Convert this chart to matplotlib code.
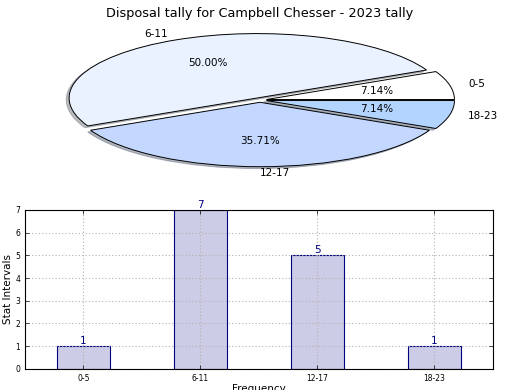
import matplotlib.pyplot as plt
import numpy as np

# intervalos y conteos
intervalos = ['0-5', '6-11', '12-17', '18-23']
conteos = [1, 7, 5, 1]
colores = ['#ffffff', '#eaf2ff', '#c4d8ff', '#b3d4ff']
explode = [0.035, 0.035, 0.035, 0.035]

fig = plt.figure(figsize=(5.2, 3.9), dpi=100)

# Pie de arriba (aplastado)
ax1 = fig.add_axes([0.048, 0.537, 0.904, 0.413])
wedges, textos, pcts = ax1.pie(conteos, labels=intervalos, colors=colores,
                               explode=explode, autopct='%1.2f%%',
                               shadow={'ox': -0.011, 'oy': -0.02, 'shade': 0.5},
                               startangle=0, labeldistance=1.1, pctdistance=0.6,
                               wedgeprops={'edgecolor': 'black', 'linewidth': 0.7},
                               textprops={'fontsize': 7.5})
ax1.set_aspect('auto')
ax1.set_xlim(-1.25, 1.25)
ax1.set_ylim(-1.25, 1.25)
ax1.set_title('Disposal tally for Campbell Chesser - 2023 tally', fontsize=9.3, pad=0)

# Barras de abajo
ax2 = fig.add_axes([0.048, 0.054, 0.9, 0.408])
x = np.arange(len(intervalos))
barras = ax2.bar(x, conteos, width=0.45, color='#ccccE6', edgecolor='navy', linewidth=0.8)
for xi, c in zip(x, conteos):
    ax2.text(xi, c, str(c), ha='center', va='bottom', color='navy', fontsize=7.5)

ax2.set_xlim(-0.5, 3.5)
ax2.set_ylim(0, 7)
ax2.set_xticks(x)
ax2.set_xticklabels(intervalos)
ax2.set_yticks(range(8))
ax2.tick_params(labelsize=5.5, direction='in', top=True, right=True, length=3, width=0.5)
ax2.grid(True, linestyle=(0, (1, 2)), color='0.7', linewidth=0.8)
ax2.set_axisbelow(False)
for s in ax2.spines.values():
    s.set_zorder(4)
ax2.set_ylabel('Stat Intervals', fontsize=7.5)
ax2.yaxis.set_label_coords(-0.025, 0.5)
ax2.set_xlabel('Frequency', fontsize=7.5, labelpad=1)

plt.savefig('out.png')
